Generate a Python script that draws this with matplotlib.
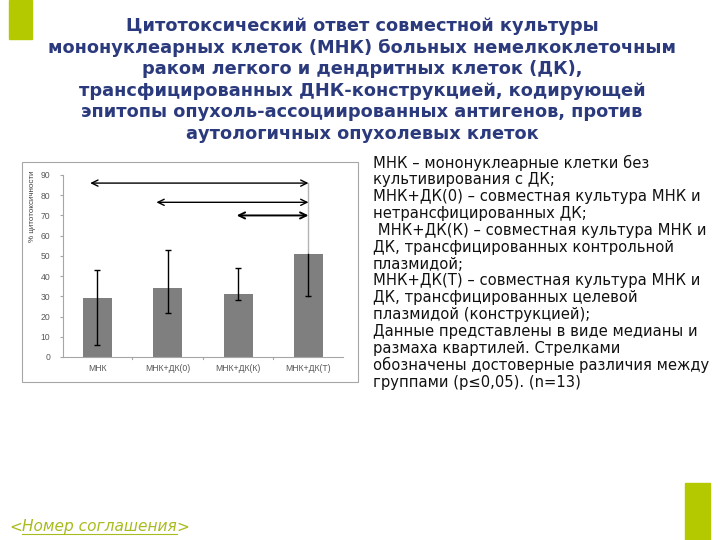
import numpy as np
import matplotlib
matplotlib.use("Agg")
import matplotlib.pyplot as plt
from matplotlib.patches import Rectangle
from matplotlib.lines import Line2D

# data
groups = ["МНК", "МНК+ДК(0)", "МНК+ДК(К)", "МНК+ДК(Т)"]
median = [29, 34, 31, 51]
q_low = [6, 22, 28, 30]
q_high = [43, 53, 44, 86]
# significant differences: (from group, to group, height)
arrows = [(0, 3, 86), (1, 3, 76.5), (2, 3, 70)]

title_lines = [
    "Цитотоксический ответ совместной культуры",
    "мононуклеарных клеток (МНК) больных немелкоклеточным",
    "раком легкого и дендритных клеток (ДК),",
    "трансфицированных ДНК-конструкцией, кодирующей",
    "эпитопы опухоль-ассоциированных антигенов, против",
    "аутологичных опухолевых клеток",
]
note_lines = [
    "МНК – мононуклеарные клетки без",
    "культивирования с ДК;",
    "МНК+ДК(0) – совместная культура МНК и",
    "нетрансфицированных ДК;",
    " МНК+ДК(К) – совместная культура МНК и",
    "ДК, трансфицированных контрольной",
    "плазмидой;",
    "МНК+ДК(Т) – совместная культура МНК и",
    "ДК, трансфицированных целевой",
    "плазмидой (конструкцией);",
    "Данные представлены в виде медианы и",
    "размаха квартилей. Стрелками",
    "обозначены достоверные различия между",
    "группами (p≤0,05). (n=13)",
]

W, H = 720, 540
fig = plt.figure(figsize=(7.2, 5.4), dpi=100)
green = "#b5c900"
navy = "#2b3a7c"

def px(x, y):
    return x / W, 1 - y / H

# green decorations
fig.patches.append(Rectangle(px(9, 39), 23 / W, 39 / H, transform=fig.transFigure,
                             color=green, zorder=0))
fig.patches.append(Rectangle(px(685, 540), 25 / W, 57 / H, transform=fig.transFigure,
                             color=green, zorder=0))

# chart frame
fig.patches.append(Rectangle(px(22, 382), 336 / W, 220 / H, transform=fig.transFigure,
                             facecolor="none", edgecolor="#a6a6a6", lw=0.8, zorder=-1))

# title
for i, line in enumerate(title_lines):
    fig.text(362 / W, 1 - (26 + i * 21.6) / H, line, ha="center", va="center",
             fontsize=12.8, fontweight="bold", color=navy, family="DejaVu Sans")

# notes on the right
for i, line in enumerate(note_lines):
    fig.text(373 / W, 1 - (163 + i * 16.85) / H, line, ha="left", va="center",
             fontsize=10.6, color="#111111", family="DejaVu Sans")

# plot area
ax = fig.add_axes([62.7 / W, 1 - 357 / H, (343 - 62.7) / W, (357 - 175) / H])
ax.set_facecolor("none")
x = np.arange(len(groups))
ax.bar(x, median, width=0.41, color="#7f7f7f", zorder=2)

for i in range(len(groups)):
    if i < 3:
        ax.errorbar(x[i], median[i],
                    yerr=[[median[i] - q_low[i]], [q_high[i] - median[i]]],
                    fmt="none", ecolor="black", elinewidth=1.0, capsize=2.5,
                    capthick=1.0, zorder=3)
    else:
        # upper whisker shows up light grey, lower one black with a cap
        ax.plot([x[i], x[i]], [q_low[i], median[i]], color="black", lw=1.0, zorder=3)
        ax.plot(x[i], q_low[i], marker="_", ms=5, mew=1.0, color="black", zorder=3)
        ax.plot([x[i], x[i]], [median[i], q_high[i]], color="#b3b3b3", lw=1.0, zorder=1)

offsets = [-0.1, -0.16, -0.02]
for (a, b, h), off in zip(arrows, offsets):
    ax.annotate("", xy=(b, h), xytext=(a + off, h),
                arrowprops=dict(arrowstyle="<->,head_length=0.45,head_width=0.22",
                                color="black", lw=1.0 if a < 2 else 1.4,
                                shrinkA=0, shrinkB=0))

ax.set_xlim(-0.49, 3.49)
ax.set_ylim(0, 90)
ax.set_yticks(np.arange(0, 91, 10))
ax.set_xticks(x)
ax.set_xticklabels(groups, fontsize=6.2, color="#595959", family="Liberation Sans")
ax.tick_params(axis="x", length=0, pad=5)
ax.tick_params(axis="y", labelsize=6.2, labelcolor="#595959", length=2,
               color="#a6a6a6", pad=7)
for lab in ax.get_yticklabels():
    lab.set_family("Liberation Sans")
for b in [0.5, 1.5, 2.5]:
    ax.plot([b, b], [0, -1.2], color="#a6a6a6", lw=0.8, clip_on=False)
for s in ["top", "right"]:
    ax.spines[s].set_visible(False)
ax.spines["left"].set_color("#a6a6a6")
ax.spines["bottom"].set_color("#a6a6a6")
ax.spines["left"].set_linewidth(0.8)
ax.spines["bottom"].set_linewidth(0.8)

fig.text(32 / W, 1 - 170 / H, "% цитотоксичности", rotation=90, ha="center", va="top",
         fontsize=5.8, color="#404040", family="Liberation Sans")

# footer
fsize = 11.1
t1 = fig.text(9 / W, 1 - 527 / H, "<", fontsize=fsize, color="#a9bb1e",
              family="DejaVu Sans", style="italic", va="center")
fig.canvas.draw()
r = fig.canvas.get_renderer()
bb = t1.get_window_extent(r)
t2 = fig.text(bb.x1 / W, 1 - 527 / H, "Номер соглашения", fontsize=fsize, color="#a9bb1e",
              family="DejaVu Sans", style="italic", va="center")
bb2 = t2.get_window_extent(r)
fig.text(bb2.x1 / W, 1 - 527 / H, ">", fontsize=fsize, color="#a9bb1e",
         family="DejaVu Sans", style="italic", va="center")
fig.lines.append(Line2D([bb2.x0 / W, bb2.x1 / W], [(bb2.y0 + 1) / H, (bb2.y0 + 1) / H],
                        transform=fig.transFigure, color="#a9bb1e", lw=0.8))

fig.savefig("out.png", dpi=100)
